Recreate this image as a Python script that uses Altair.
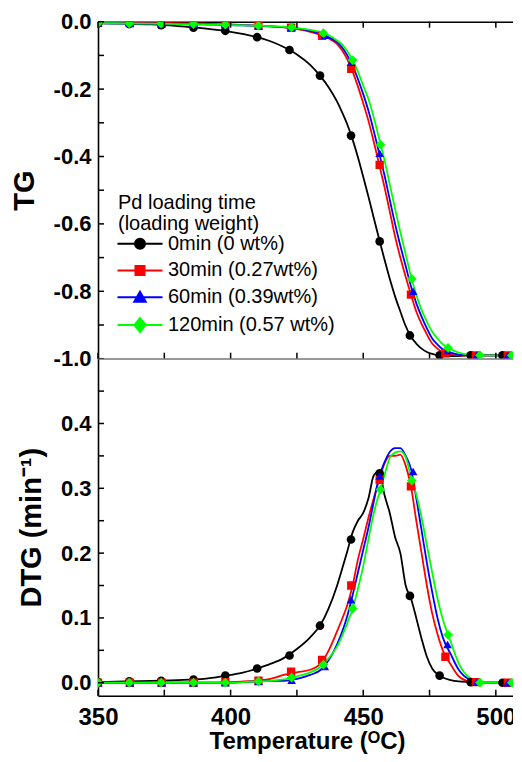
import altair as alt
import pandas as pd

SERIES = ["0min (0 wt%)", "30min (0.27wt%)", "60min (0.39wt%)", "120min (0.57 wt%)"]
COLORS = ["#000000", "#ff0000", "#0000ff", "#00ff00"]
SHAPES = ["circle", "square", "triangle-up", "diamond"]
MARKER_SIZES = [75, 70, 75, 95]
LEGEND_SHAPES = [
    "M-4.5,0H4.5M-1,0A1,1,0,1,0,1,0A1,1,0,1,0,-1,0Z",
    "M-4.5,0H4.5M-0.9,-0.9H0.9V0.9H-0.9Z",
    "M-4.5,0H4.5M0,-1.1L1.15,0.9L-1.15,0.9Z",
    "M-4.5,0H4.5M0,-1.4L1.1,0L0,1.4L-1.1,0Z",
]

# temperature grid of the curves (degC)
T_GRID = [350, 360, 370, 380, 390, 400, 405, 410, 415, 420, 425, 430, 434, 437, 440,
          442, 444, 446, 448, 450, 452, 454, 456, 458, 460, 462, 464, 466, 468, 470,
          472, 474, 476, 478, 480, 483, 486, 490, 495, 500, 505, 510]

# TG curves
TG_0 = [-0.005, -0.006, -0.008, -0.013, -0.02, -0.03, -0.037, -0.046, -0.058, -0.075, -0.097,
        -0.128, -0.163, -0.195, -0.235, -0.268, -0.305, -0.35, -0.402, -0.46, -0.52, -0.583,
        -0.645, -0.705, -0.763, -0.815, -0.86, -0.903, -0.935, -0.955, -0.97, -0.98, -0.986,
        -0.99, -0.992, -0.992, -0.992, -0.99, -0.99, -0.99, -0.99, -0.99]
TG_30 = [-0.003, -0.003, -0.004, -0.005, -0.006, -0.008, -0.01, -0.012, -0.014, -0.017, -0.022,
         -0.03, -0.04, -0.05, -0.065, -0.085, -0.112, -0.148, -0.192, -0.242, -0.295, -0.357,
         -0.423, -0.49, -0.563, -0.637, -0.7, -0.757, -0.81, -0.86, -0.897, -0.928, -0.955,
         -0.97, -0.982, -0.988, -0.99, -0.99, -0.99, -0.99, -0.99, -0.99]
TG_60 = [-0.004, -0.005, -0.006, -0.007, -0.008, -0.01, -0.011, -0.012, -0.014, -0.016, -0.02,
         -0.027, -0.036, -0.046, -0.06, -0.076, -0.1, -0.13, -0.17, -0.215, -0.265, -0.325,
         -0.39, -0.455, -0.528, -0.6, -0.665, -0.725, -0.785, -0.835, -0.875, -0.91, -0.94,
         -0.958, -0.972, -0.982, -0.988, -0.99, -0.99, -0.99, -0.99, -0.99]
TG_120 = [-0.004, -0.005, -0.006, -0.007, -0.008, -0.01, -0.011, -0.012, -0.013, -0.015, -0.019,
          -0.024, -0.031, -0.04, -0.055, -0.067, -0.088, -0.114, -0.148, -0.19, -0.23, -0.285,
          -0.347, -0.41, -0.483, -0.555, -0.625, -0.69, -0.755, -0.81, -0.855, -0.89, -0.92,
          -0.94, -0.957, -0.972, -0.982, -0.988, -0.99, -0.99, -0.99, -0.99]

# DTG curves (min^-1)
DTG_0 = [0.001, 0.002, 0.003, 0.004, 0.006, 0.012, 0.016, 0.022, 0.029, 0.038, 0.052, 0.07,
         0.09, 0.115, 0.148, 0.175, 0.203, 0.232, 0.25, 0.262, 0.285, 0.32, 0.326, 0.29, 0.262,
         0.225, 0.2, 0.15, 0.13, 0.1, 0.068, 0.04, 0.022, 0.013, 0.008, 0.004, 0.002, 0.001,
         0.0, 0.0, 0.0, 0.0]
DTG_30 = [0.0, 0.0, 0.0, 0.0, 0.0, 0.001, 0.002, 0.003, 0.006, 0.012, 0.016, 0.02, 0.03, 0.05,
          0.078, 0.098, 0.12, 0.15, 0.19, 0.222, 0.255, 0.285, 0.313, 0.338, 0.35, 0.35, 0.352,
          0.335, 0.303, 0.25, 0.2, 0.15, 0.107, 0.075, 0.05, 0.028, 0.01, 0.002, 0.0, 0.0, 0.0, 0.0]
DTG_60 = [0.0, 0.0, 0.0, 0.0, 0.0, 0.0, 0.001, 0.002, 0.003, 0.003, 0.006, 0.012, 0.02, 0.035,
          0.058, 0.078, 0.103, 0.135, 0.17, 0.205, 0.24, 0.28, 0.318, 0.34, 0.356, 0.362, 0.362,
          0.35, 0.33, 0.285, 0.235, 0.185, 0.14, 0.1, 0.07, 0.044, 0.02, 0.005, 0.0, 0.0, 0.0, 0.0]
DTG_120 = [0.0, 0.0, 0.0, 0.0, 0.0, 0.0, 0.001, 0.002, 0.003, 0.005, 0.01, 0.016, 0.025, 0.038,
           0.055, 0.072, 0.092, 0.114, 0.145, 0.18, 0.222, 0.262, 0.292, 0.32, 0.347, 0.355,
           0.357, 0.348, 0.318, 0.29, 0.255, 0.212, 0.17, 0.13, 0.098, 0.063, 0.03, 0.008, 0.0,
           0.0, 0.0, 0.0]

# marker positions and values
MK_T_0 = [350, 361.8, 373.8, 386, 398, 410, 422.2, 433.7, 445.4, 456.2, 467.6, 478.8, 490.5, 502.5]
MK_TG_0 = [-0.005, -0.007, -0.01, -0.018, -0.027, -0.046, -0.084, -0.16, -0.338, -0.652, -0.931, -0.99, -0.99, -0.99]
MK_DTG_0 = [0.001, 0.002, 0.003, 0.005, 0.011, 0.022, 0.042, 0.088, 0.221, 0.323, 0.134, 0.011, 0.001, 0.0]

MK_T_30 = [350, 362, 374, 386, 398, 410.5, 422.8, 434.5, 445.5, 456.2, 468, 481, 492.5, 504.5]
MK_TG_30 = [-0.003, -0.003, -0.004, -0.005, -0.007, -0.012, -0.018, -0.042, -0.14, -0.425, -0.81, -0.984, -0.99, -0.99]
MK_DTG_30 = [0.0, 0.0, 0.0, 0.0, 0.001, 0.003, 0.017, 0.035, 0.15, 0.313, 0.303, 0.04, 0.001, 0.0]

MK_T_60 = [350, 362, 374, 386, 398, 410.5, 423, 435.5, 445.4, 456.2, 468.8, 481.8, 492.8, 504.5]
MK_TG_60 = [-0.004, -0.005, -0.006, -0.007, -0.009, -0.012, -0.017, -0.04, -0.12, -0.39, -0.8, -0.976, -0.99, -0.99]
MK_DTG_60 = [0.0, 0.0, 0.0, 0.0, 0.0, 0.002, 0.004, 0.025, 0.128, 0.319, 0.326, 0.059, 0.001, 0.0]

MK_T_120 = [350, 361.8, 373.8, 386, 398, 410.5, 423, 435, 446, 456.5, 468.3, 482, 494, 506]
MK_TG_120 = [-0.004, -0.005, -0.006, -0.007, -0.009, -0.012, -0.017, -0.034, -0.114, -0.365, -0.763, -0.968, -0.99, -0.99]
MK_DTG_120 = [0.0, 0.0, 0.0, 0.0, 0.0, 0.002, 0.008, 0.028, 0.114, 0.298, 0.312, 0.074, 0.0, 0.0]

X_TICKS = [350, 375, 400, 425, 450, 475, 500]
X_LABELS = [350, 400, 450, 500]
TG_TICKS = [-1.0, -0.9, -0.8, -0.7, -0.6, -0.5, -0.4, -0.3, -0.2, -0.1, 0.0]
TG_LABELS = [-1.0, -0.8, -0.6, -0.4, -0.2, 0.0]
DTG_TICKS = [0.0, 0.05, 0.1, 0.15, 0.2, 0.25, 0.3, 0.35, 0.4, 0.45]
DTG_LABELS = [0.0, 0.1, 0.2, 0.3, 0.4]

# ---------------------------------------------------------------- data tables
line_rows = []
for s, tg, dtg in zip(SERIES, [TG_0, TG_30, TG_60, TG_120], [DTG_0, DTG_30, DTG_60, DTG_120]):
    for t, a, b in zip(T_GRID, tg, dtg):
        line_rows.append({"series": s, "T": t, "TG": a, "DTG": b})
lines_df = pd.DataFrame(line_rows)

mk_rows = []
for s, ts, tg, dtg in zip(SERIES, [MK_T_0, MK_T_30, MK_T_60, MK_T_120],
                          [MK_TG_0, MK_TG_30, MK_TG_60, MK_TG_120],
                          [MK_DTG_0, MK_DTG_30, MK_DTG_60, MK_DTG_120]):
    for t, a, b in zip(ts, tg, dtg):
        mk_rows.append({"series": s, "T": t, "TG": a, "DTG": b})
mk_df = pd.DataFrame(mk_rows)

W, H1, H2 = 418, 337, 337
FONT = "Liberation Sans"
X_DOMAIN = [350, 507.6]
TICK_LEN = 6

color_scale = alt.Scale(domain=SERIES, range=COLORS)
xs = alt.Scale(domain=X_DOMAIN, nice=False, zero=False)

TG_FMT = "datum.value < 0 ? '-' + format(-datum.value, '.1f') : format(datum.value, '.1f')"
DTG_FMT = "format(datum.value, '.1f')"


def y_label_axis(values, title, label_expr):
    return alt.Axis(orient="left", values=values, labelExpr=label_expr, labelFlush=False,
                    labelOverlap=False, grid=False, ticks=False,
                    domain=True, domainWidth=1.6, domainColor="#000",
                    labelFont=FONT, labelFontSize=22, labelFontWeight="bold", labelColor="#000",
                    labelPadding=7,
                    title=title, titleFont=FONT, titleFontSize=29, titleFontWeight="bold",
                    titleColor="#000", titlePadding=14)


def x_label_axis(show_labels):
    kw = dict(orient="bottom", values=X_LABELS, labelFlush=False, labelOverlap=False, grid=False,
              ticks=False, domain=True, domainWidth=1.6, domainColor="#000")
    if show_labels:
        kw.update(labels=True, format="d",
                  labelFont=FONT, labelFontSize=24, labelFontWeight="bold", labelColor="#000",
                  labelPadding=9.5, title="Temperature (ᴼC)", titleFont=FONT, titleFontSize=24,
                  titleFontWeight="bold", titleColor="#000", titlePadding=0)
    else:
        kw.update(labels=False, title=None)
    return alt.Axis(**kw)


def panel(field, ydomain, yticks, ylabels, ytitle, label_expr, height, bottom_panel):
    ys = alt.Scale(domain=ydomain, nice=False, zero=False)

    lines = alt.Chart(lines_df).mark_line(strokeWidth=1.8, interpolate="monotone", clip=True).encode(
        x=alt.X("T:Q", scale=xs, axis=x_label_axis(bottom_panel)),
        y=alt.Y(f"{field}:Q", scale=ys, axis=y_label_axis(ylabels, ytitle, label_expr)),
        color=alt.Color("series:N", scale=color_scale, legend=None),
        order=alt.Order("T:Q"),
    )
    layers = [lines]
    for s, shp, sz in zip(SERIES, SHAPES, MARKER_SIZES):
        pts = alt.Chart(mk_df).transform_filter(alt.datum.series == s).mark_point(
            filled=True, size=sz, shape=shp, opacity=1, clip=True).encode(
            x=alt.X("T:Q", scale=xs, axis=None),
            y=alt.Y(f"{field}:Q", scale=ys, axis=None),
            color=alt.Color("series:N", scale=color_scale, legend=None),
        )
        layers.append(pts)

    # inward tick marks along the frame, placed by the scales at the tick values
    ytick_df = pd.DataFrame({"v": yticks})
    xtick_df = pd.DataFrame({"v": X_TICKS})
    left_ticks = alt.Chart(ytick_df).mark_rule(color="#000", strokeWidth=1.5).encode(
        y=alt.Y("v:Q", scale=ys, axis=None), y2="v:Q",
        x=alt.value(0), x2=alt.value(TICK_LEN))
    bottom_ticks = alt.Chart(xtick_df).mark_rule(color="#000", strokeWidth=1.5).encode(
        x=alt.X("v:Q", scale=xs, axis=None), x2="v:Q",
        y=alt.value(height), y2=alt.value(height - TICK_LEN))
    layers += [left_ticks, bottom_ticks]
    if not bottom_panel:
        top_ticks = alt.Chart(xtick_df).mark_rule(color="#000", strokeWidth=1.5).encode(
            x=alt.X("v:Q", scale=xs,
                    axis=alt.Axis(orient="top", labels=False, ticks=False, grid=False, title=None,
                                  domain=True, domainWidth=1.6, domainColor="#000")),
            x2="v:Q",
            y=alt.value(0), y2=alt.value(TICK_LEN))
        layers.append(top_ticks)

        leg = alt.Legend(title=["Pd loading time", "(loading weight)"], orient="none",
                         legendX=20, legendY=171, padding=0,
                         titleFont=FONT, titleFontSize=20, titleFontWeight="normal",
                         titleColor="#000", titleLineHeight=21, titlePadding=0,
                         titleAnchor="start", titleLimit=0,
                         labelFont=FONT, labelFontSize=20, labelColor="#000", labelLimit=0,
                         symbolSize=100, symbolStrokeWidth=2, symbolOpacity=1,
                         symbolOffset=12, labelOffset=18, rowPadding=6.8)
        legend_layer = alt.Chart(mk_df).mark_point(opacity=0).encode(
            x=alt.X("T:Q", scale=xs, axis=None),
            y=alt.Y(f"{field}:Q", scale=ys, axis=None),
            fill=alt.Fill("series:N", scale=alt.Scale(domain=SERIES, range=COLORS), legend=leg),
            stroke=alt.Stroke("series:N", scale=alt.Scale(domain=SERIES, range=COLORS), legend=leg),
            shape=alt.Shape("series:N", scale=alt.Scale(domain=SERIES, range=LEGEND_SHAPES), legend=leg),
        )
        layers.append(legend_layer)
    ch = alt.layer(*layers).resolve_axis(x="independent", y="independent")
    if not bottom_panel:
        ch = ch.resolve_scale(fill="independent", stroke="independent", shape="independent") \
               .resolve_legend(fill="independent", stroke="independent", shape="independent")
    return ch.properties(width=W, height=height)


top = panel("TG", [-1.0, 0.0], TG_TICKS, TG_LABELS, "TG", TG_FMT, H1, False)
bottom = panel("DTG", [-0.02, 0.5], DTG_TICKS, DTG_LABELS, "DTG (min⁻¹)", DTG_FMT, H2, True)

chart = alt.vconcat(top, bottom, spacing=0, bounds="flush").properties(
    padding={"left": 1, "top": 1.7, "right": -12, "bottom": 2.5}
).configure_view(stroke=None).configure(background="white")

chart.save("out.html", embed_options={"renderer": "svg", "actions": False})
